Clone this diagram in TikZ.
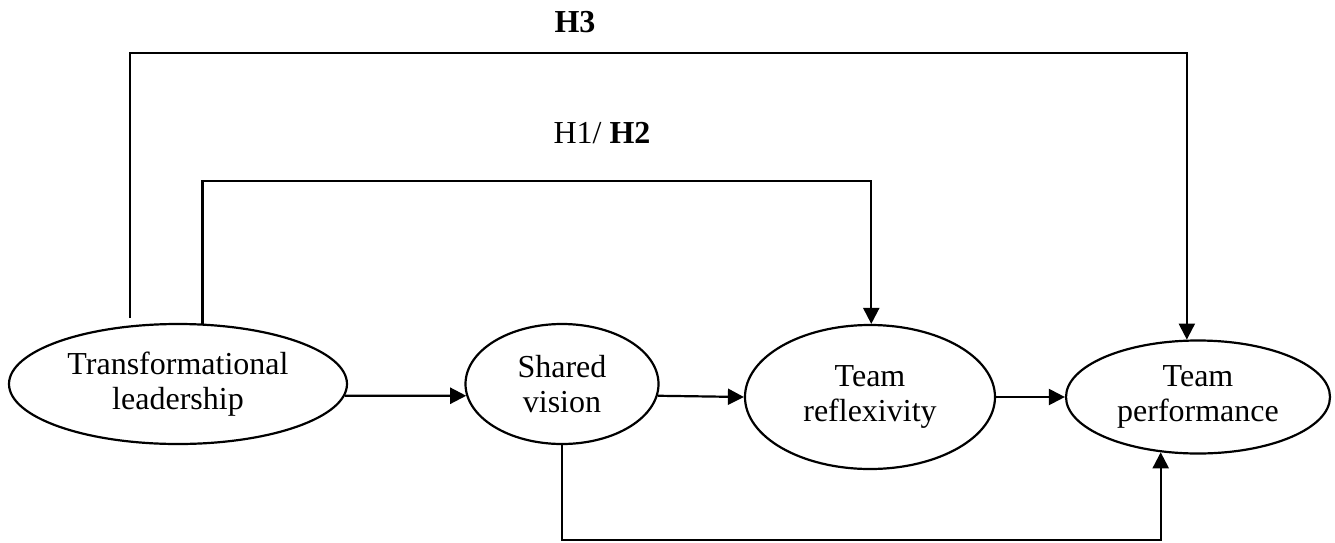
\documentclass[tikz,border=0pt]{standalone}
\usepackage{fontspec}
\setmainfont{Liberation Serif}
\usetikzlibrary{shapes.geometric,arrows.meta}
\begin{document}
\begin{tikzpicture}[x=0.5pt,y=-0.5pt,
  every node/.style={font=\fontsize{16pt}{17.5pt}\selectfont},
  oval/.style={draw,ellipse,line width=1.1pt,inner sep=0pt,align=center},
  arr/.style={line width=1.1pt,-{Triangle[length=8pt,width=8pt]}}]
\useasboundingbox (0,0) rectangle (1335,542);
\node[oval,minimum width=169pt,minimum height=60pt] (TL) at (178,384) {Transformational\\leadership};
\node[oval,minimum width=96.5pt,minimum height=60pt] (SV) at (562,384) {Shared\\vision};
\node[oval,minimum width=125pt,minimum height=72pt] (TR) at (870,397) {Team\\reflexivity};
\node[oval,minimum width=132pt,minimum height=56.5pt] (TP) at (1198,397) {Team\\performance};
\node (H3) at (575,22) {\textbf{H3}};
\node (H12) at (602,133) {H1/ \textbf{H2}};
\coordinate (h3s) at (130,318);
\coordinate (h3top) at (0,53);
\coordinate (h12top) at (0,181);
\coordinate (bot) at (0,540);
\draw[arr] (TL.-4.5) -- (SV.187.9);
\draw[arr] (SV.-7.9) -- (TR.west);
\draw[arr] (TR.east) -- (TP.west);
\draw[arr] (h3s) -- (h3s |- h3top) -| (TP.101);
\draw[arr] (TL.68) -- (TL.68 |- h12top) -| (TR.89);
\draw[arr] (SV.south) -- (SV.south |- bot) -| (TP.236.5);
\end{tikzpicture}
\end{document}
